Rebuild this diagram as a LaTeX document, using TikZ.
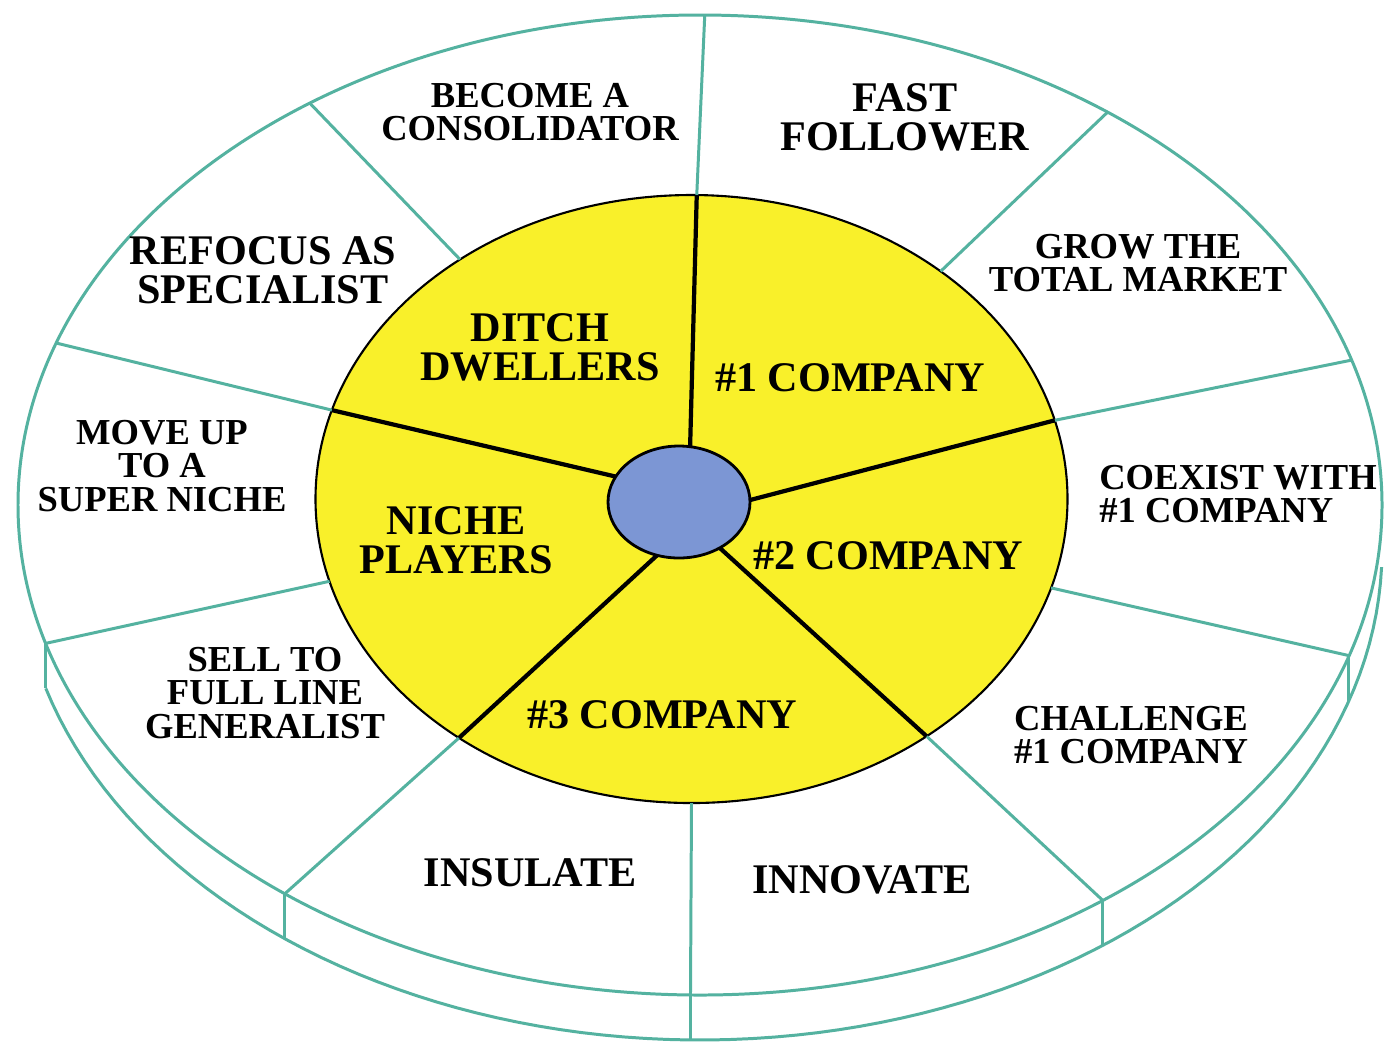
\documentclass[tikz,border=0pt]{standalone}
\usepackage{fontspec}
\setmainfont{Liberation Serif}
\definecolor{rim}{RGB}{84,178,160}
\definecolor{core}{RGB}{249,240,42}
\definecolor{hub}{RGB}{124,150,212}
\begin{document}
\begin{tikzpicture}[x={(0.01cm,0cm)},y={(0cm,-0.01cm)},
  bigtxt/.style={font=\bfseries\fontsize{12}{11}\selectfont,align=center},
  smalltxt/.style={font=\bfseries\fontsize{10.4}{9.4}\selectfont,align=center},
  ring/.style={rim,line width=.85pt}]
\useasboundingbox[fill=white] (0,0) rectangle (1385,1041);
% side of the disc
\draw[ring] plot[domain=196.4:358,samples=90] ({700+682*cos(\x)},{550-490*sin(\x)});
\foreach \o in {-17.9,-53.8,-90.8,-127.5,196.4}
  \draw[ring] ({700+682*cos(\o)},{505-490*sin(\o)}) -- ++(0,45);
% top face, core and hub
\draw[ring] (700,505) ellipse [x radius=682,y radius=490];
\draw[fill=core,line width=.6pt] (691.5,499) ellipse [x radius=376,y radius=304];
\foreach \i/\o in {89.2/89.6,48.5/53.3,15/17.2,-17/-17.9,-51.3/-53.8,-90/-90.8,-128.2/-127.5,195.7/196.4,163/160.7,128/124.9}
  \draw[ring] ({691.5+376*cos(\i)},{499-304*sin(\i)}) -- ({700+682*cos(\o)},{505-490*sin(\o)});
\foreach \b/\i in {81/89.2,2/15,-55/-51.3,-108/-128.2,153/163}
  \draw[line width=1.2pt] ({679+71*cos(\b)},{502-56*sin(\b)}) -- ({691.5+376*cos(\i)},{499-304*sin(\i)});
\draw[fill=hub,line width=.8pt] (679,502) ellipse [x radius=71,y radius=56];
% outer ring
\node[smalltxt] (consol) at (530,112) {BECOME A\\CONSOLIDATOR};
\node[bigtxt] (fast) at (905,117) {FAST\\FOLLOWER};
\node[smalltxt] (grow) at (1138,263) {GROW THE\\TOTAL MARKET};
\node[smalltxt,align=left] (coexist) at (1238,494) {COEXIST WITH\\\#1 COMPANY};
\node[smalltxt] (challenge) at (1131,735) {CHALLENGE\\\#1 COMPANY};
\node[bigtxt] (innovate) at (862,880) {INNOVATE};
\node[bigtxt] (insulate) at (530,873) {INSULATE};
\node[smalltxt] (sell) at (265,693) {SELL TO\\FULL LINE\\GENERALIST};
\node[smalltxt] (moveup) at (162,466) {MOVE UP\\TO A\\SUPER NICHE};
\node[bigtxt] (refocus) at (263,270) {REFOCUS AS\\SPECIALIST};
% core
\node[bigtxt] (ditch) at (540,347) {DITCH\\DWELLERS};
\node[bigtxt] (first) at (850,378) {\#1 COMPANY};
\node[bigtxt] (second) at (888,556) {\#2 COMPANY};
\node[bigtxt] (third) at (662,715) {\#3 COMPANY};
\node[bigtxt] (niche) at (456,540) {NICHE\\PLAYERS};
\end{tikzpicture}
\end{document}
